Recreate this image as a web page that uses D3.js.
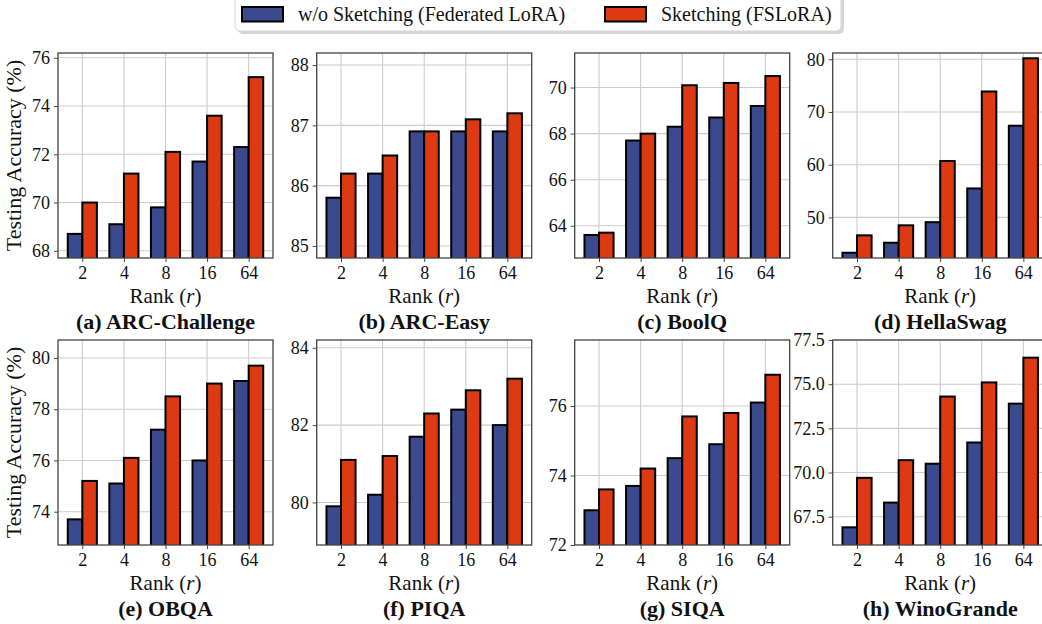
<!DOCTYPE html>
<html>
<head>
<meta charset="utf-8">
<script src="https://cdn.jsdelivr.net/npm/d3@7"></script>
<style>
  body { margin: 0; background: #fff; }
  svg { display: block; }
  svg text { font-family: "Liberation Serif", "Times New Roman", "DejaVu Serif", serif; }
</style>
</head>
<body>
<svg id="chart" width="1042" height="624"></svg>
<script>
// ranks on the x axis
const ranks = ["2", "4", "8", "16", "64"];
// panel titles
const tasks = ["(a) ARC-Challenge", "(b) ARC-Easy", "(c) BoolQ", "(d) HellaSwag",
               "(e) OBQA", "(f) PIQA", "(g) SIQA", "(h) WinoGrande"];
// w/o Sketching (Federated LoRA)
const fedLora = [
  [68.7, 69.1, 69.8, 71.7, 72.3],
  [85.8, 86.2, 86.9, 86.9, 86.9],
  [63.6, 67.7, 68.3, 68.7, 69.2],
  [43.3, 45.2, 49.1, 55.5, 67.4],
  [73.7, 75.1, 77.2, 76.0, 79.1],
  [79.9, 80.2, 81.7, 82.4, 82.0],
  [73.0, 73.7, 74.5, 74.9, 76.1],
  [66.9, 68.3, 70.5, 71.7, 73.9]
];
// Sketching (FSLoRA)
const fsLora = [
  [70.0, 71.2, 72.1, 73.6, 75.2],
  [86.2, 86.5, 86.9, 87.1, 87.2],
  [63.7, 68.0, 70.1, 70.2, 70.5],
  [46.6, 48.5, 60.7, 73.9, 80.2],
  [75.2, 76.1, 78.5, 79.0, 79.7],
  [81.1, 81.2, 82.3, 82.9, 83.2],
  [73.6, 74.2, 75.7, 75.8, 76.9],
  [69.7, 70.7, 74.3, 75.1, 76.5]
];
// y tick labels per panel
const yTicks = [
  [68, 70, 72, 74, 76],
  [85, 86, 87, 88],
  [64, 66, 68, 70],
  [50, 60, 70, 80],
  [74, 76, 78, 80],
  [80, 82, 84],
  [72, 74, 76],
  [67.5, 70.0, 72.5, 75.0, 77.5]
];
const seriesNames = ["w/o Sketching (Federated LoRA)", "Sketching (FSLoRA)"];

const serif = "Liberation Serif, Times New Roman, DejaVu Serif, serif";
const colors = ["#3b4a8e", "#dd3a14"];
const svg = d3.select("#chart").attr("font-family", serif);

const colLeft = [58, 316.7, 574.7, 832.7];
const plotW = 215;
const rowTop = [53, 340];
const plotH = 205;
const barW = 0.35;

tasks.forEach((title, k) => {
  const row = Math.floor(k / 4), col = k % 4;
  const x0 = colLeft[col], y0 = rowTop[row];
  const blue = fedLora[k], red = fsLora[k];
  const lo = d3.min(blue.concat(red)) - 1, hi = d3.max(blue.concat(red)) + 1;

  const x = d3.scaleLinear().domain([-0.585, 4.585]).range([0, plotW]);
  const y = d3.scaleLinear().domain([lo, hi]).range([plotH, 0]);

  const g = svg.append("g").attr("transform", "translate(" + x0 + "," + y0 + ")");

  // grid
  g.selectAll(".gy").data(yTicks[k]).enter().append("line")
    .attr("x1", 0).attr("x2", plotW)
    .attr("y1", d => y(d)).attr("y2", d => y(d))
    .attr("stroke", "#cccccc").attr("stroke-width", 1.1);
  g.selectAll(".gx").data(ranks).enter().append("line")
    .attr("x1", (d, i) => x(i)).attr("x2", (d, i) => x(i))
    .attr("y1", 0).attr("y2", plotH)
    .attr("stroke", "#cccccc").attr("stroke-width", 1.1);

  // bars
  [blue, red].forEach((vals, s) => {
    g.selectAll(".bar" + s).data(vals).enter().append("rect")
      .attr("x", (d, i) => x(i - barW + s * barW))
      .attr("width", x(barW) - x(0))
      .attr("y", d => y(d))
      .attr("height", d => plotH - y(d) + 2)
      .attr("fill", colors[s])
      .attr("stroke", "#000")
      .attr("stroke-width", 2);
  });

  // hide the bar bottoms below the axis
  g.append("rect").attr("x", -2).attr("y", plotH).attr("width", plotW + 4).attr("height", 4).attr("fill", "#fff");

  // axes
  const yAxis = d3.axisLeft(y).tickValues(yTicks[k]).tickSize(4).tickPadding(4)
    .tickFormat(d => k === 7 ? d.toFixed(1) : d);
  const xAxis = d3.axisBottom(x).tickValues(d3.range(ranks.length)).tickSize(4).tickPadding(4)
    .tickFormat(i => ranks[i]);
  const ya = g.append("g").call(yAxis);
  const xa = g.append("g").attr("transform", "translate(0," + plotH + ")").call(xAxis);
  [ya, xa].forEach(a => {
    a.attr("font-family", serif).attr("font-size", 18);
    a.select(".domain").remove();
    a.selectAll("line").attr("stroke", "#444").attr("stroke-width", 1);
    a.selectAll("text").attr("fill", "#111");
  });

  // spines
  g.append("rect").attr("width", plotW).attr("height", plotH)
    .attr("fill", "none").attr("stroke", "#444").attr("stroke-width", 1.3);

  // x label
  const xl = g.append("text").attr("x", plotW / 2).attr("y", plotH + 45)
    .attr("text-anchor", "middle").attr("font-size", 21).attr("fill", "#111");
  xl.append("tspan").text("Rank (");
  xl.append("tspan").attr("font-style", "italic").text("r");
  xl.append("tspan").text(")");

  // title
  g.append("text").attr("x", plotW / 2).attr("y", plotH + 71)
    .attr("text-anchor", "middle").attr("font-size", 22).attr("font-weight", "bold")
    .attr("fill", "#111").text(title);

  if (col === 0) {
    g.append("text")
      .attr("transform", "translate(-37," + plotH / 2 + ") rotate(-90)")
      .attr("text-anchor", "middle").attr("font-size", 22).attr("fill", "#111")
      .text("Testing Accuracy (%)");
  }
});

// legend
const leg = svg.append("g");
leg.append("rect").attr("x", 238).attr("y", -4).attr("width", 606).attr("height", 38)
  .attr("rx", 5).attr("fill", "#bbb").attr("opacity", 0.6);
leg.append("rect").attr("x", 235).attr("y", -7).attr("width", 606).attr("height", 38)
  .attr("rx", 5).attr("fill", "#fff").attr("stroke", "#d6d6d6").attr("stroke-width", 1);
const legX = [242, 605];
seriesNames.forEach((name, s) => {
  leg.append("rect").attr("x", legX[s]).attr("y", 7).attr("width", 41).attr("height", 14.5)
    .attr("fill", colors[s]).attr("stroke", "#000").attr("stroke-width", 2);
  leg.append("text").attr("x", legX[s] + 56).attr("y", 20.5)
    .attr("font-size", 20).attr("fill", "#111").text(name);
});
</script>
</body>
</html>
